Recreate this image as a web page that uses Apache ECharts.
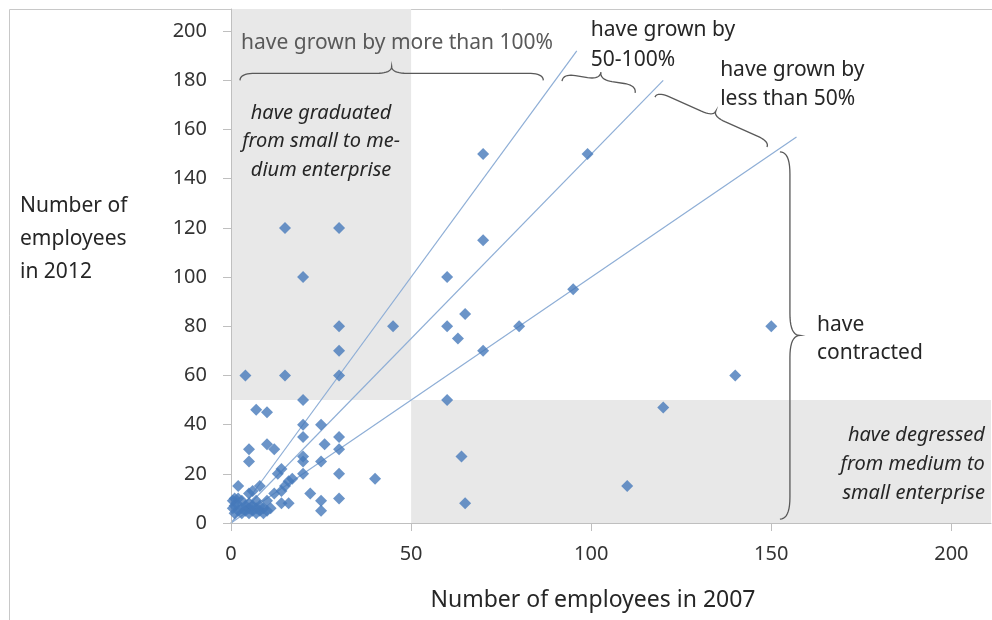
<!DOCTYPE html>
<html>
<head>
<meta charset="utf-8">
<script src="https://cdn.jsdelivr.net/npm/echarts@6/dist/echarts.min.js"></script>
<style>
  html, body { margin: 0; padding: 0; background: #fff; }
  #chart { width: 992px; height: 620px; }
</style>
</head>
<body>
<div id="chart"></div>
<script>
// tick labels
const xTicks = [0, 50, 100, 150, 200];
const yTicks = [0, 20, 40, 60, 80, 100, 120, 140, 160, 180, 200];

// firms: [employees 2007, employees 2012]
const firms = [
  [15, 120], [30, 120], [20, 100], [4, 60], [15, 60], [30, 60], [30, 70], [30, 80], [45, 80], [20, 50],
  [70, 150], [99, 150], [70, 115], [60, 100], [65, 85], [60, 80], [63, 75], [70, 70], [80, 80], [95, 95], [60, 50],
  [150, 80], [140, 60], [120, 47], [110, 15], [64, 27], [65, 8], [40, 18],
  [7, 46], [10, 45], [20, 40], [25, 40], [20, 35], [30, 35], [10, 32], [12, 30], [5, 30], [26, 32], [30, 30],
  [5, 25], [20, 25], [20, 27], [25, 25], [14, 22], [13, 20], [20, 20], [30, 20], [17, 18], [16, 17], [15, 15],
  [14, 13], [12, 12], [22, 12], [25, 9], [25, 5], [30, 10], [14, 8], [16, 8], [8, 15], [2, 15], [5, 12], [6, 13],
  [10, 9], [1, 10], [1, 7], [0.5, 9],
  [0.5, 6], [1, 4], [1.5, 8], [2, 5], [2, 10], [3, 6], [3, 4], [4, 7], [4, 5], [5, 4], [5, 6], [5, 8],
  [6, 5], [6, 7], [7, 4], [7, 6], [7, 9], [8, 5], [8, 7], [9, 4], [9, 6], [10, 5], [11, 6], [3, 9]
];

// growth reference lines
const lineDouble = [[0, 0], [96, 192]];   // +100%
const lineHalf = [[0, 0], [120, 180]];    // +50%
const lineEven = [[0, 0], [157, 157]];    // no growth

// shaded zones
const graduatedZone = [[0, 50], [50, 209]];
const degressedZone = [[50, 0], [211, 50]];

// braces: from, to (data coords), depth in px
const braces = [
  { from: [2.5, 180], to: [86.7, 180], depth: 14 },
  { from: [91.9, 179.7], to: [112.2, 174.9], depth: 15 },
  { from: [117.7, 173.2], to: [148.8, 152.9], depth: 12 },
  { from: [152.4, 150.9], to: [152.4, 1.6], depth: 20 }
];

// annotation texts
const notes = [
  { text: 'have grown by more than 100%', at: [2.8, 195.2], align: 'left', color: '#595959', italic: false },
  { text: 'have grown by\n50-100%', at: [99.9, 194.4], align: 'left', color: '#262626', italic: false, lh: 30 },
  { text: 'have grown by\nless than 50%', at: [135.8, 178.3], align: 'left', color: '#262626', italic: false, lh: 29 },
  { text: 'have graduated\nfrom small to me-\ndium enterprise', at: [25, 155.1], align: 'center', color: '#262626', italic: true, lh: 28.5 },
  { text: 'have\ncontracted', at: [162.7, 74.8], align: 'left', color: '#262626', italic: false, lh: 28 },
  { text: 'have degressed\nfrom medium to\nsmall enterprise', at: [209.3, 24], align: 'right', color: '#262626', italic: true, lh: 29 }
];

const FONT = '"Noto Sans", "Open Sans", sans-serif';

function quad(p0, p1, p2, out) {
  for (let i = 1; i <= 10; i++) {
    const t = i / 10, m = 1 - t;
    out.push([m * m * p0[0] + 2 * m * t * p1[0] + t * t * p2[0],
              m * m * p0[1] + 2 * m * t * p1[1] + t * t * p2[1]]);
  }
}

function bracePoints(a, b, w) {
  const dx = b[0] - a[0], dy = b[1] - a[1];
  const L = Math.hypot(dx, dy);
  const u = [dx / L, dy / L];
  const n = [u[1], -u[0]];
  const q = Math.min(w * 1.1, L / 6);
  const P = (s, t) => [a[0] + u[0] * s + n[0] * t, a[1] + u[1] * s + n[1] * t];
  const h = w / 2;
  const pts = [P(0, 0)];
  quad(P(0, 0), P(0, h), P(q, h), pts);
  pts.push(P(L / 2 - q, h));
  quad(P(L / 2 - q, h), P(L / 2, h), P(L / 2, w), pts);
  quad(P(L / 2, w), P(L / 2, h), P(L / 2 + q, h), pts);
  pts.push(P(L - q, h));
  quad(P(L - q, h), P(L, h), P(L, 0), pts);
  return pts;
}

const chart = echarts.init(document.getElementById('chart'));

const option = {
  backgroundColor: '#fff',
  animation: false,
  grid: { left: 231, top: 9, right: 1, bottom: 97 },
  xAxis: {
    type: 'value', min: 0, max: 211,
    splitLine: { show: false },
    axisLine: { show: true, lineStyle: { color: '#bfbfbf', width: 1 } },
    axisTick: { show: true, customValues: xTicks, length: 8, lineStyle: { color: '#bfbfbf' } },
    axisLabel: { customValues: xTicks, margin: 21, color: '#333', fontSize: 20, fontFamily: FONT }
  },
  yAxis: {
    type: 'value', min: 0, max: 209, z: 3,
    splitLine: { show: false },
    axisLine: { show: true, lineStyle: { color: '#bfbfbf', width: 1 } },
    axisTick: { show: true, customValues: yTicks, length: 8, lineStyle: { color: '#bfbfbf' } },
    axisLabel: { customValues: yTicks, margin: 24, color: '#333', fontSize: 20, fontFamily: FONT }
  },
  graphic: [
    { type: 'rect', silent: true, z: -1, shape: { x: 9.5, y: 9.5, width: 1000, height: 700 },
      style: { fill: null, stroke: '#c8c8c8', lineWidth: 1 } },
    { type: 'text', left: 20, top: 190, style: { text: 'Number of\nemployees\nin 2012', font: '21px ' + FONT, fill: '#262626', lineHeight: 33 } },
    { type: 'text', x: 593, y: 600, style: { text: 'Number of employees in 2007', font: '23px ' + FONT, fill: '#262626', align: 'center', verticalAlign: 'middle' } }
  ],
  series: [
    {
      type: 'line', data: lineDouble, symbol: 'none', z: 2,
      lineStyle: { color: '#8eaed6', width: 1.2 },
      markArea: {
        silent: true,
        itemStyle: { color: '#e8e8e8' },
        data: [
          [{ coord: graduatedZone[0] }, { coord: graduatedZone[1] }],
          [{ coord: degressedZone[0] }, { coord: degressedZone[1] }]
        ]
      }
    },
    { type: 'line', data: lineHalf, symbol: 'none', z: 2, lineStyle: { color: '#8eaed6', width: 1.2 } },
    { type: 'line', data: lineEven, symbol: 'none', z: 2, lineStyle: { color: '#8eaed6', width: 1.2 } },
    {
      type: 'scatter', data: firms, symbol: 'diamond', symbolSize: 12, z: 3,
      itemStyle: { color: '#4679ba' }
    },
    {
      type: 'custom', z: 4, silent: true,
      data: braces.map((b, i) => [b.from[0], b.from[1], i]),
      encode: { x: 0, y: 1 },
      renderItem: function (params, api) {
        const b = braces[params.dataIndex];
        const a = api.coord(b.from), c = api.coord(b.to);
        return {
          type: 'polyline',
          shape: { points: bracePoints(a, c, b.depth) },
          style: { stroke: '#595959', fill: null, lineWidth: 1.3 }
        };
      }
    },
    {
      type: 'custom', z: 5, silent: true,
      data: notes.map((n, i) => [n.at[0], n.at[1], i]),
      encode: { x: 0, y: 1 },
      renderItem: function (params, api) {
        const n = notes[params.dataIndex];
        const p = api.coord(n.at);
        return {
          type: 'text',
          style: {
            text: n.text, x: p[0], y: p[1],
            align: n.align, verticalAlign: 'middle',
            font: (n.italic ? 'italic ' : '') + (n.italic ? '20px ' : '21px ') + FONT,
            fill: n.color, lineHeight: n.lh || 28
          }
        };
      }
    }
  ]
};

chart.setOption(option);
</script>
</body>
</html>
